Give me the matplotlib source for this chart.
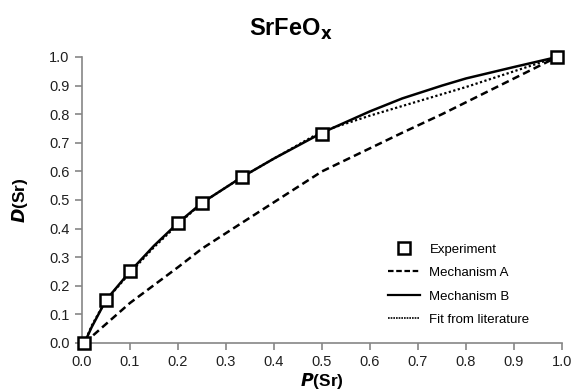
import matplotlib
matplotlib.use("Agg")
import matplotlib.pyplot as plt
from matplotlib.lines import Line2D

plt.rcParams['font.family'] = ['Liberation Sans', 'DejaVu Sans']

# Experiment
p_exp = [0.005, 0.05, 0.10, 0.20, 0.25, 0.333, 0.50, 0.99]
d_exp = [0.00, 0.15, 0.25, 0.42, 0.49, 0.58, 0.73, 1.00]

# Mechanism A (dashed)
p_a = [0.005, 0.10, 0.20, 0.25, 0.333, 0.50, 0.667, 0.75, 0.99]
d_a = [0.00, 0.14, 0.265, 0.33, 0.42, 0.60, 0.735, 0.80, 1.00]

# Mechanism B (solid)
p_b = [0.005, 0.02, 0.05, 0.10, 0.15, 0.20, 0.25, 0.333, 0.40, 0.50, 0.60, 0.667, 0.75, 0.80, 0.90, 0.99]
d_b = [0.00, 0.055, 0.15, 0.25, 0.34, 0.42, 0.49, 0.58, 0.645, 0.735, 0.81, 0.855, 0.90, 0.925, 0.965, 1.00]

# Fit from literature (dotted)
p_fit = [0.005, 0.02, 0.05, 0.10, 0.15, 0.20, 0.25, 0.333, 0.40, 0.50, 0.60, 0.70, 0.80, 0.90, 0.99]
d_fit = [0.00, 0.06, 0.15, 0.245, 0.335, 0.415, 0.49, 0.58, 0.645, 0.74, 0.795, 0.845, 0.895, 0.95, 1.00]

ticks = [0.0, 0.1, 0.2, 0.3, 0.4, 0.5, 0.6, 0.7, 0.8, 0.9, 1.0]
tick_labels = ["%.1f" % t for t in ticks]

fig = plt.figure(figsize=(5.75, 3.92), dpi=100)
ax = fig.add_axes([0.1426, 0.125, 0.8348, 0.7296])

ax.plot(p_a, d_a, color="black", lw=1.8, dashes=(3, 1.7), label="Mechanism A")
ax.plot(p_b, d_b, color="black", lw=1.8, label="Mechanism B")
ax.plot(p_fit, d_fit, color="black", lw=1.6, linestyle=(0, (1, 1.1)), label="Fit from literature")
ax.plot(p_exp, d_exp, linestyle="none", marker="s", ms=8.5, mfc="white",
        mec="black", mew=1.8, clip_on=False, zorder=5, label="Experiment")

ax.set_xlim(0, 1)
ax.set_ylim(0, 1)
ax.set_xticks(ticks)
ax.set_xticklabels(tick_labels)
ax.set_yticks(ticks)
ax.set_yticklabels(tick_labels)

for s in ["top", "right"]:
    ax.spines[s].set_visible(False)
for s in ["left", "bottom"]:
    ax.spines[s].set_color("#868686")
    ax.spines[s].set_linewidth(1.2)
ax.tick_params(direction="out", length=5, width=1.2, color="#868686",
               labelsize=10.5, labelcolor="#202020", pad=4)

ax.set_xlabel(r"$\bfit{P}$(Sr)", fontsize=12.5, fontweight="bold", labelpad=1)
ax.set_ylabel(r"$\bfit{D}$(Sr)", fontsize=12.5, fontweight="bold", labelpad=14)
fig.text(0.505, 0.925, r"SrFeO$_\mathbf{x}$", fontsize=17, fontweight="bold",
         ha="center", va="center")

handles = [
    Line2D([], [], linestyle="none", marker="s", ms=8.5, mfc="white", mec="black", mew=1.8),
    Line2D([], [], color="black", lw=1.6, dashes=(2.5, 1.2)),
    Line2D([], [], color="black", lw=1.6),
    Line2D([], [], color="black", lw=1.2, linestyle=(0, (1, 0.6))),
]
labels = ["Experiment", "Mechanism A", "Mechanism B", "Fit from literature"]
ax.legend(handles, labels, loc="lower left", bbox_to_anchor=(0.6125, 0.018),
          frameon=False, fontsize=9.5, handlelength=2.4, labelspacing=0.85,
          handletextpad=0.75)

fig.savefig("out.png", dpi=100)
